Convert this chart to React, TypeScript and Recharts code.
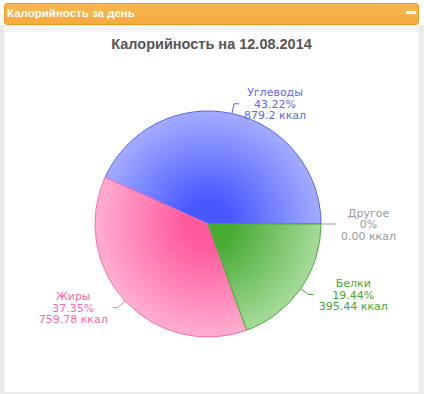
import { PieChart, Pie, Cell } from 'recharts';

const categories = ['Углеводы', 'Жиры', 'Белки', 'Другое'];
const kcalValues = [879.2, 759.78, 395.44, 0];
const kcalLabels = ['879.2', '759.78', '395.44', '0.00'];
const centerColors = ['#4858ff', '#ff5a9e', '#47aa33', '#aaaaaa'];
const edgeColors = ['#a8b0ff', '#ffb2d2', '#aadd9f', '#dddddd'];
const strokeColors = ['#5262ff', '#ff6aa8', '#48ab36', '#999999'];
const labelColors = ['#5c68ea', '#ff66aa', '#44aa33', '#999999'];

const data = categories.map((name, i) => ({ name, value: kcalValues[i] }));
const total = kcalValues.reduce((a, b) => a + b, 0);

const CX = 208;
const CY = 224;
const R = 113;
const FONT = "11px 'DejaVu Sans'";

let ctx: CanvasRenderingContext2D | null = null;
function textWidth(s: string) {
  if (!ctx) ctx = document.createElement('canvas').getContext('2d');
  if (!ctx) return s.length * 6.5;
  ctx.font = FONT;
  return ctx.measureText(s).width;
}

const RAD = Math.PI / 180;

function renderLabel(props: any) {
  const { cx, cy, midAngle, outerRadius, index, value } = props;
  const cos = Math.cos(-midAngle * RAD);
  const sin = Math.sin(-midAngle * RAD);
  const x0 = cx + outerRadius * cos;
  const y0 = cy + outerRadius * sin;
  const x1 = cx + (outerRadius + 10) * cos;
  const y1 = cy + (outerRadius + 10) * sin;
  const right = cos >= -0.01;
  const x2 = x1 + (right ? 5 : -5);
  const pct = parseFloat(((value / total) * 100).toFixed(2)) + '%';
  const lines = [categories[index], pct, kcalLabels[index] + ' ккал'];
  const w = Math.max(...lines.map(textWidth));
  const tx = right ? x2 + 5 + w / 2 : x2 - 5 - w / 2;
  const color = labelColors[index];
  return (
    <g key={`lbl-${index}`}>
      <path
        d={`M${x0},${y0}L${x1},${y1}L${x2},${y1}`}
        stroke={strokeColors[index]}
        fill="none"
        strokeWidth={1}
      />
      <text
        x={tx}
        y={y1 + 4}
        fill={color}
        textAnchor="middle"
        style={{ fontFamily: "'DejaVu Sans', Verdana, sans-serif", fontSize: 11 }}
      >
        {lines.map((l, i) => (
          <tspan key={i} x={tx} y={y1 + 4 + (i - 1) * 11.5}>
            {l}
          </tspan>
        ))}
      </text>
    </g>
  );
}

export default function App() {
  return (
    <div
      style={{
        position: 'absolute',
        left: 0,
        top: 0,
        width: 424,
        height: 394,
        background: '#ffffff',
        overflow: 'hidden',
        fontFamily: "'Liberation Sans', Arial, sans-serif",
      }}
    >
      <div
        style={{
          position: 'absolute',
          left: 0,
          top: 25,
          width: 424,
          height: 369,
          background: '#ebebeb',
        }}
      />
      <div
        style={{
          position: 'absolute',
          left: 4,
          top: 25,
          width: 415,
          height: 367,
          background: '#f4f4f4',
        }}
      />
      <div
        style={{
          position: 'absolute',
          left: 5,
          top: 32,
          width: 413,
          height: 360,
          background: '#ffffff',
        }}
      />
      <div
        style={{
          position: 'absolute',
          left: 4,
          top: 3,
          width: 413,
          height: 20,
          border: '1px solid #eb9c20',
          borderRadius: 3,
          background: 'linear-gradient(#f8b650, #f4ab40)',
        }}
      >
        <div
          style={{
            position: 'absolute',
            left: 2,
            top: 3,
            color: '#ffffff',
            fontWeight: 'bold',
            fontSize: 11.5,
            lineHeight: '13px',
          }}
        >
          Калорийность за день
        </div>
        <div
          style={{
            position: 'absolute',
            left: 401,
            top: 7,
            width: 10,
            height: 3,
            background: '#ffffff',
          }}
        />
      </div>
      <div
        style={{
          position: 'absolute',
          left: 5,
          top: 35,
          width: 413,
          textAlign: 'center',
          color: '#555555',
          fontWeight: 'bold',
          fontSize: 14.5,
          lineHeight: '18px',
        }}
      >
        Калорийность на 12.08.2014
      </div>
      <div style={{ position: 'absolute', left: 0, top: 0 }}>
        <PieChart width={424} height={394} margin={{ top: 0, right: 0, bottom: 0, left: 0 }}>
          <defs>
            {centerColors.map((c, i) => (
              <radialGradient
                key={i}
                id={`grad-${i}`}
                gradientUnits="userSpaceOnUse"
                cx={CX}
                cy={CY}
                r={R + 4}
              >
                <stop offset="0" stopColor={c} />
                <stop offset="0.2" stopColor={c} />
                <stop offset="1" stopColor={edgeColors[i]} />
              </radialGradient>
            ))}
          </defs>
          <Pie
            data={data}
            dataKey="value"
            nameKey="name"
            cx={CX}
            cy={CY}
            outerRadius={R}
            startAngle={0}
            endAngle={360}
            label={renderLabel}
            labelLine={false}
            isAnimationActive={false}
          >
            {data.map((d, i) => (
              <Cell key={d.name} fill={`url(#grad-${i})`} stroke={strokeColors[i]} strokeWidth={1} />
            ))}
          </Pie>
        </PieChart>
      </div>
    </div>
  );
}
